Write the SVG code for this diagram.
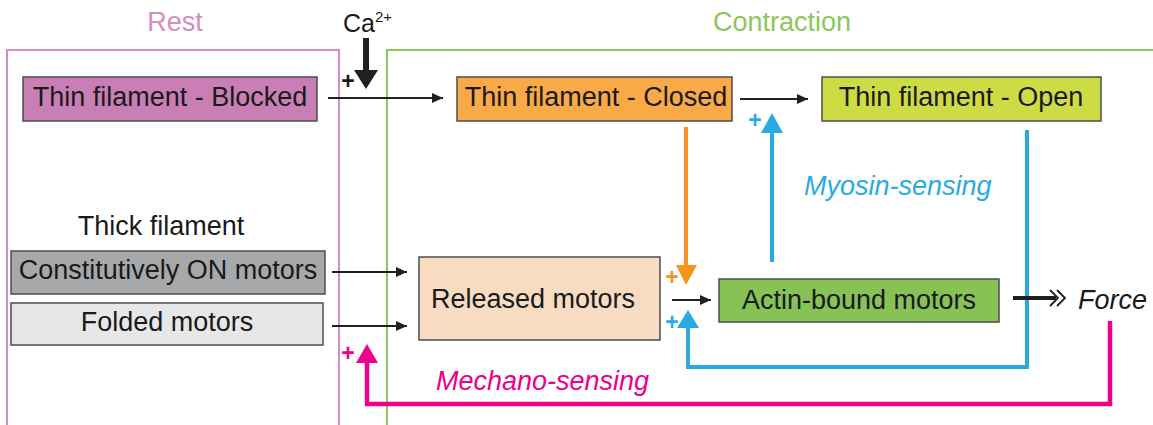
<svg xmlns="http://www.w3.org/2000/svg" width="1153" height="425" viewBox="0 0 1153 425">
<style>
text{font-family:"Liberation Sans",Arial,sans-serif;font-size:27px;fill:#1a1a1a}
.mid{text-anchor:middle}
.box{stroke:#4d4d4d;stroke-width:1.5}
.thin{stroke:#231f20;stroke-width:1.8;fill:none}
.plus{font-size:23px;font-weight:bold;text-anchor:middle}
.it{font-style:italic}
</style>
<defs>
<marker id="ah" markerUnits="userSpaceOnUse" markerWidth="12" markerHeight="10" refX="11" refY="5" orient="auto">
<path d="M0,0 L11,5 L0,10 Z" fill="#231f20"/>
</marker>
</defs>
<g id="frames">
<rect x="7" y="50" width="332" height="400" fill="none" stroke="#d48ec0" stroke-width="2"/>
<rect x="387" y="50" width="800" height="400" fill="none" stroke="#8dc65a" stroke-width="2"/>
<text x="175" y="31" class="mid" style="fill:#d48ec0">Rest</text>
<text x="782" y="31" class="mid" style="fill:#8dc65a">Contraction</text>
</g>
<g id="ca">
<text x="343" y="32" style="font-size:25px">Ca</text>
<text x="375" y="22" style="font-size:15px">2+</text>
</g>
<g id="blocked">
<rect class="box" x="23" y="77" width="294" height="44" fill="#c97fb5"/>
<text x="170" y="106" class="mid">Thin filament - Blocked</text>
</g>
<g id="closed">
<rect class="box" x="457" y="77" width="275" height="44" fill="#f9a945"/>
<text x="596" y="106" class="mid">Thin filament - Closed</text>
</g>
<g id="open">
<rect class="box" x="822" y="77" width="279" height="44" fill="#cddc45"/>
<text x="961" y="106" class="mid">Thin filament - Open</text>
</g>
<g id="thick-label">
<text x="161" y="235" class="mid">Thick filament</text>
</g>
<g id="constitutive">
<rect class="box" x="11" y="251" width="314" height="43" fill="#a7a8aa"/>
<text x="168" y="279" class="mid">Constitutively ON motors</text>
</g>
<g id="folded">
<rect class="box" x="11" y="303" width="312" height="42" fill="#e6e7e8"/>
<text x="167" y="331" class="mid">Folded motors</text>
</g>
<g id="released">
<rect class="box" x="419" y="257" width="241" height="83" fill="#f7dcc2"/>
<text x="533" y="308" class="mid">Released motors</text>
</g>
<g id="actin">
<rect class="box" x="719" y="279" width="280" height="43" fill="#86c256"/>
<text x="859" y="309" class="mid">Actin-bound motors</text>
</g>
<g id="force">
<text x="1078" y="309" class="it">Force</text>
</g>
<g id="connectors">
<line class="thin" x1="328" y1="98" x2="443" y2="98" marker-end="url(#ah)"/>
<line class="thin" x1="740" y1="99" x2="808" y2="99" marker-end="url(#ah)"/>
<line class="thin" x1="332" y1="272" x2="407" y2="272" marker-end="url(#ah)"/>
<line class="thin" x1="332" y1="326" x2="407" y2="326" marker-end="url(#ah)"/>
<line class="thin" x1="672" y1="300" x2="711" y2="300" marker-end="url(#ah)"/>
<line x1="366" y1="38" x2="366" y2="72" stroke="#231f20" stroke-width="6"/>
<polygon points="354,70 378,70 366,89" fill="#231f20"/>
<text x="348" y="89" class="plus">+</text>
<line x1="686" y1="127" x2="686" y2="267" stroke="#f7941d" stroke-width="4"/>
<polygon points="676,265 697,265 686,285" fill="#f7941d"/>
<text x="672" y="285" class="plus" style="fill:#f7941d">+</text>
<line x1="772" y1="262" x2="772" y2="131" stroke="#29abe2" stroke-width="4"/>
<polygon points="761,133 783,133 772,113" fill="#29abe2"/>
<text x="755" y="128" class="plus" style="fill:#29abe2">+</text>
<path d="M1027,130 V367 H688 V326" fill="none" stroke="#29abe2" stroke-width="4"/>
<polygon points="677,328 699,328 688,310" fill="#29abe2"/>
<text x="672" y="330" class="plus" style="fill:#29abe2">+</text>
<path d="M1110,321 V404 H367 V361" fill="none" stroke="#ec008c" stroke-width="4.5"/>
<polygon points="356,363 378,363 367,344" fill="#ec008c"/>
<text x="348" y="361" class="plus" style="fill:#ec008c">+</text>
<line x1="1013" y1="298" x2="1056" y2="298" stroke="#231f20" stroke-width="4"/>
<polyline points="1050,290 1058,298 1050,306" fill="none" stroke="#231f20" stroke-width="1.8"/>
<polyline points="1057,290 1065,298 1057,306" fill="none" stroke="#231f20" stroke-width="1.8"/>
<text x="804" y="195" class="it" style="fill:#29abe2">Myosin-sensing</text>
<text x="436" y="390" class="it" style="fill:#ec008c">Mechano-sensing</text>
</g>
</svg>
